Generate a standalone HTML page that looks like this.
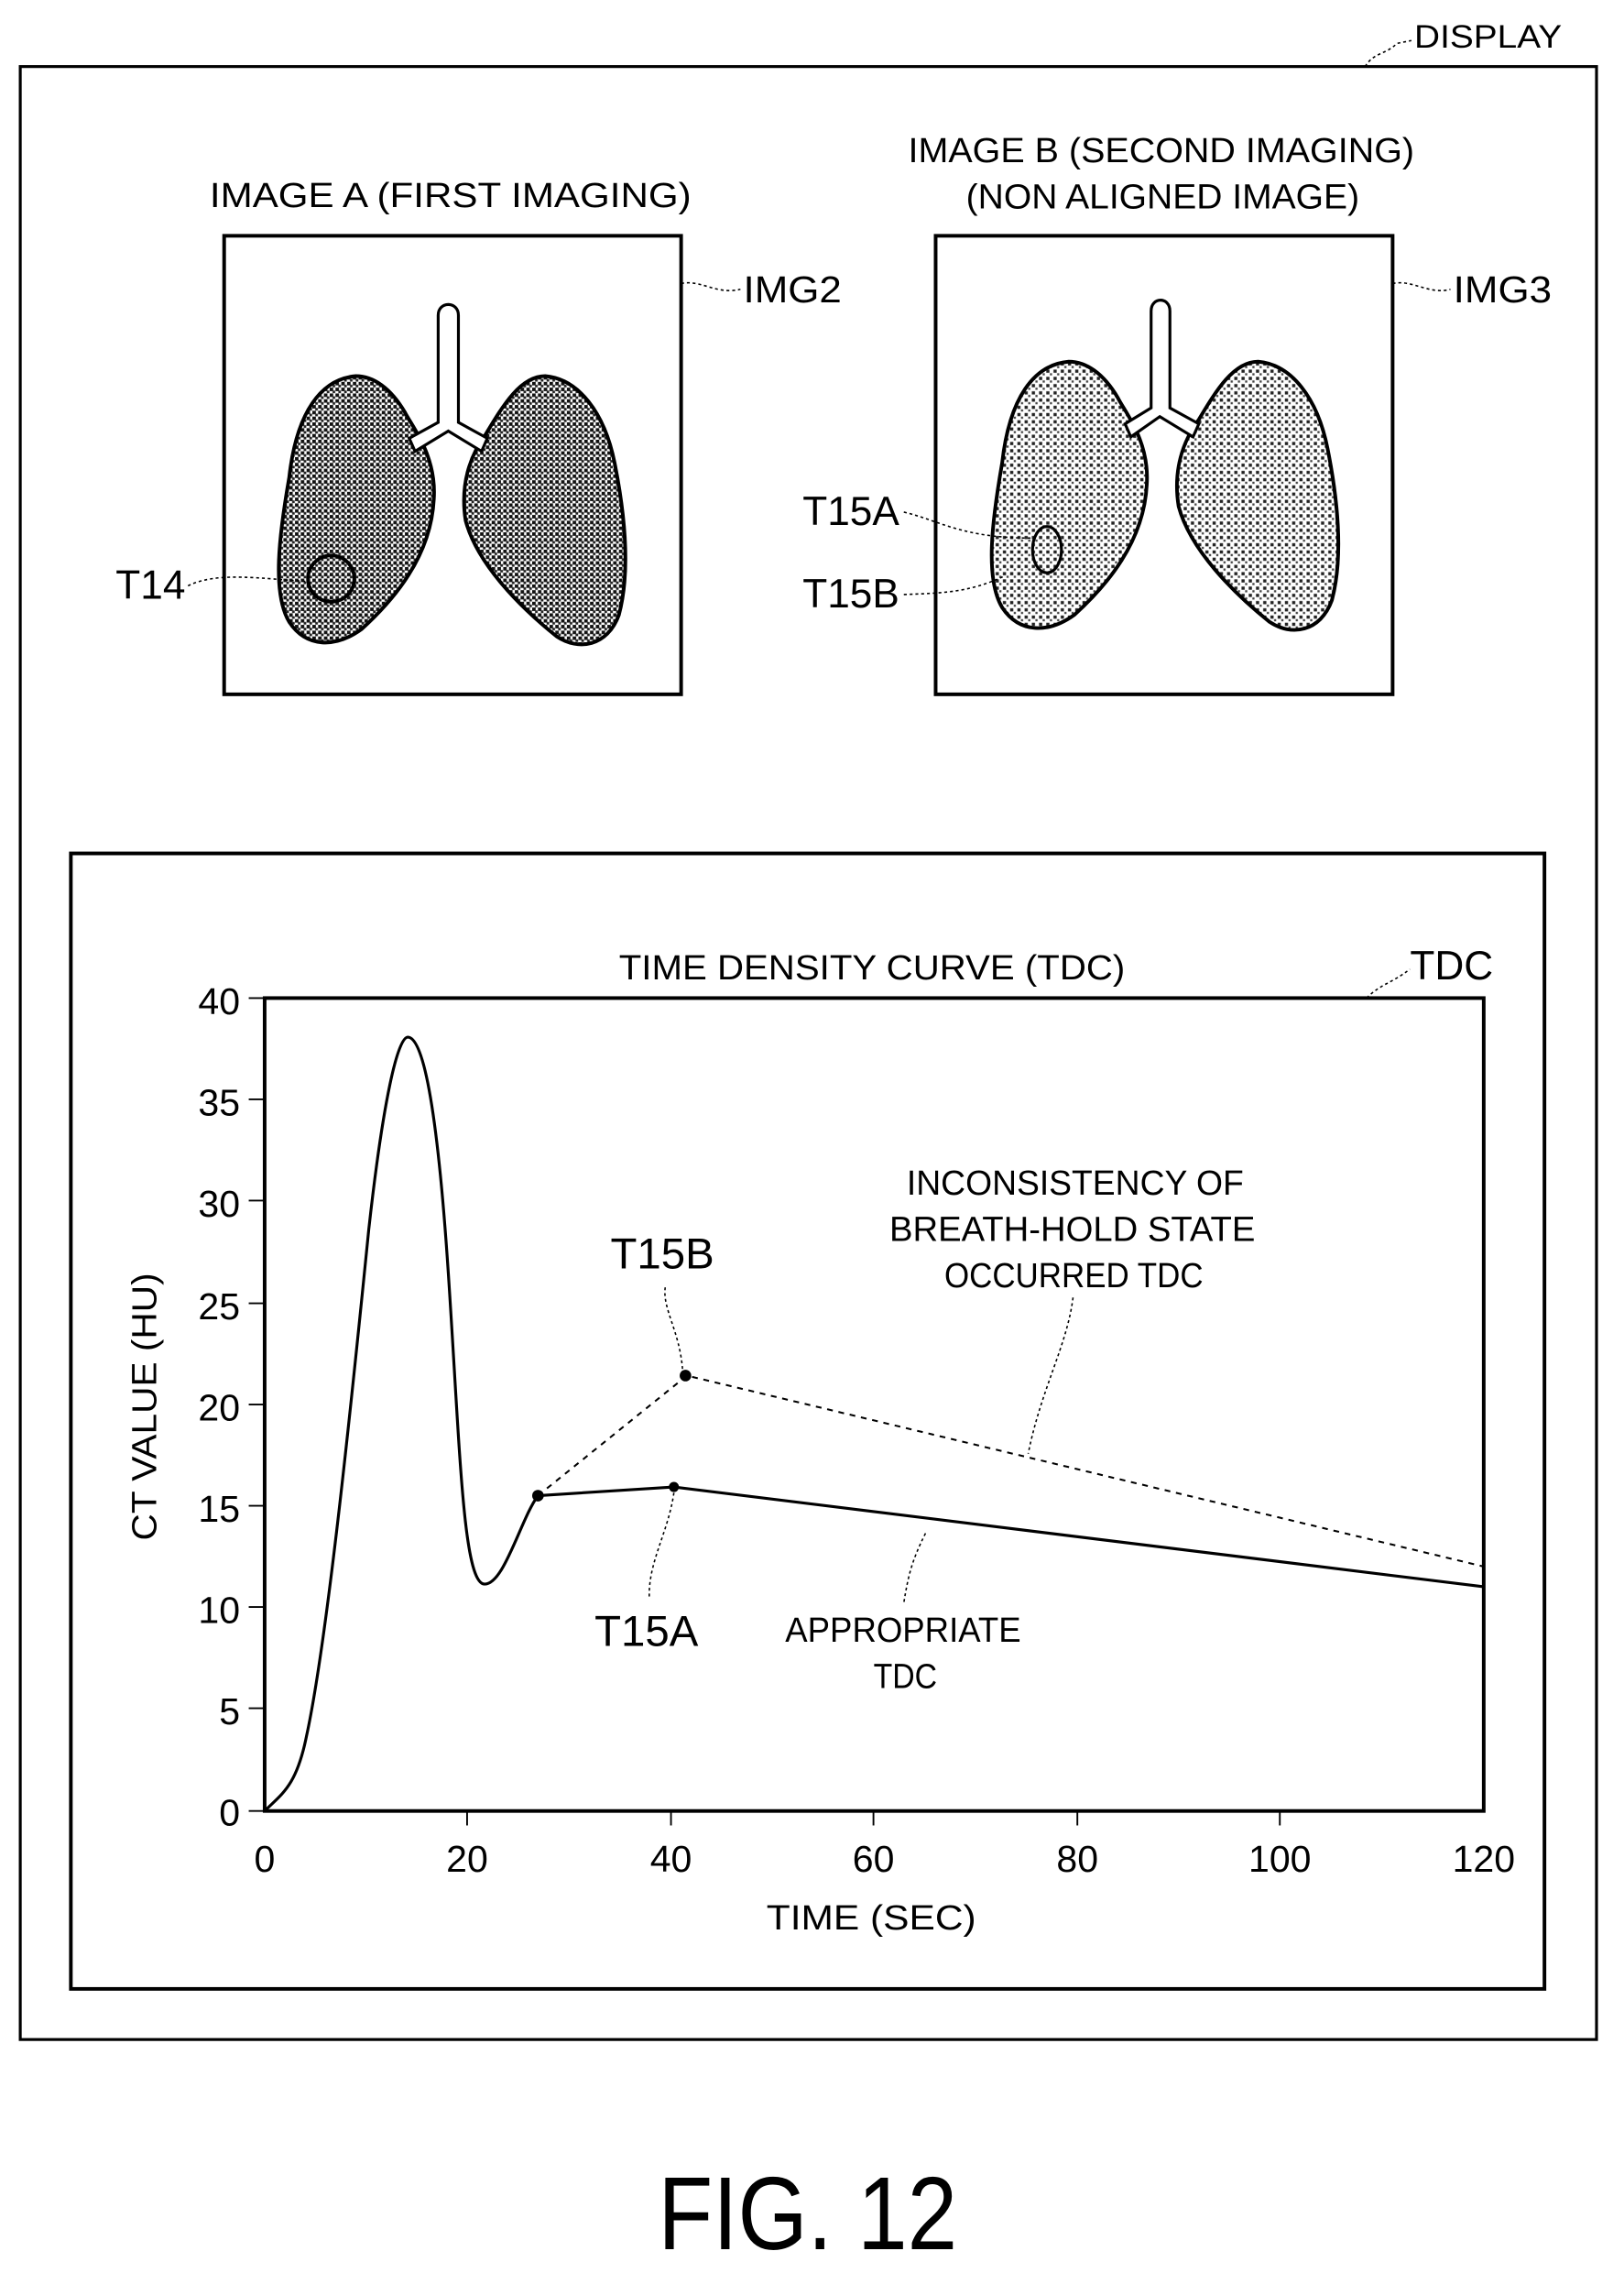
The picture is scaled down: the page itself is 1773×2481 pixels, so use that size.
<!DOCTYPE html>
<html><head><meta charset="utf-8"><style>
html,body{margin:0;padding:0;background:#fff}
svg{display:block}
text{font-family:"Liberation Sans",sans-serif;fill:#000}
</style></head><body>
<svg width="1773" height="2481" viewBox="0 0 1123 1571.4" xmlns="http://www.w3.org/2000/svg">
<defs>
<pattern id="dA" width="4" height="4" patternUnits="userSpaceOnUse"><rect width="4" height="4" fill="#fff"/><rect x="0" y="0" width="2.4" height="2.4" fill="#111"/><rect x="2" y="2" width="1.8" height="1.8" fill="#222"/></pattern>
<pattern id="dB" width="5" height="5" patternUnits="userSpaceOnUse"><rect width="5" height="5" fill="#fff"/><rect x="0.5" y="0.5" width="2.2" height="2.2" fill="#222"/><rect x="3" y="3" width="1.5" height="1.5" fill="#444"/></pattern>
<g id="lungs">
<path d="M246,260 C222,262 205,285 200,330 C193,370 188,410 200,430 C212,448 232,448 250,435 C272,415 298,385 300,345 C302,315 285,295 280,285 C270,268 258,260 246,260 Z"/>
<path d="M377,260 C400,262 418,285 425,320 C432,355 436,395 428,425 C420,447 400,450 385,440 C360,420 330,390 322,360 C318,335 325,315 336,300 C348,280 360,260 377,260 Z"/>
</g>
</defs>
<rect x="14" y="46" width="1090" height="1364" fill="none" stroke="#000" stroke-width="2"/>
<text x="978" y="33" font-size="22" textLength="102" lengthAdjust="spacingAndGlyphs">DISPLAY</text>
<path d="M944,46 C950,36 958,38 966,30 L976,28" fill="none" stroke="#000" stroke-width="1" stroke-dasharray="2,2"/>

<text x="145" y="143" font-size="24" textLength="333" lengthAdjust="spacingAndGlyphs">IMAGE A (FIRST IMAGING)</text>
<rect x="155" y="163" width="316" height="317" fill="none" stroke="#000" stroke-width="2.5"/>
<text x="514" y="209" font-size="26" textLength="68" lengthAdjust="spacingAndGlyphs">IMG2</text>
<path d="M471,196 C485,193 495,204 512,200" fill="none" stroke="#000" stroke-width="1" stroke-dasharray="2,2"/>
<g fill="url(#dA)" stroke="#000" stroke-width="2.5"><use href="#lungs"/></g>
<path d="M303,292 L303,218 C303,208 317,208 317,218 L317,292 L337,303 L333,312 L310,298 L287,312 L283,303 Z" fill="#fff" stroke="#000" stroke-width="2"/>
<circle cx="229" cy="400" r="16" fill="none" stroke="#000" stroke-width="2.5"/>
<text x="80" y="414" font-size="28">T14</text>
<path d="M130,405 C150,395 180,400 213,402" fill="none" stroke="#000" stroke-width="1" stroke-dasharray="2,2"/>

<text x="628" y="112" font-size="24" textLength="350" lengthAdjust="spacingAndGlyphs">IMAGE B (SECOND IMAGING)</text>
<text x="668" y="144" font-size="24" textLength="272" lengthAdjust="spacingAndGlyphs">(NON ALIGNED IMAGE)</text>
<rect x="647" y="163" width="316" height="317" fill="none" stroke="#000" stroke-width="2.5"/>
<text x="1005" y="209" font-size="26" textLength="68" lengthAdjust="spacingAndGlyphs">IMG3</text>
<path d="M963,196 C977,193 988,204 1003,200" fill="none" stroke="#000" stroke-width="1" stroke-dasharray="2,2"/>
<g fill="url(#dB)" stroke="#000" stroke-width="2.5" transform="translate(493,-10)"><use href="#lungs"/></g>
<path d="M796,282 L796,215 C796,205 809,205 809,215 L809,282 L829,293 L825,302 L802,288 L782,302 L778,293 Z" fill="#fff" stroke="#000" stroke-width="2"/>
<ellipse cx="724" cy="380" rx="10" ry="16" fill="none" stroke="#000" stroke-width="2"/>
<text x="555" y="363" font-size="28">T15A</text>
<text x="555" y="420" font-size="28">T15B</text>
<path d="M625,354 C650,360 665,372 714,372" fill="none" stroke="#000" stroke-width="1" stroke-dasharray="2,2"/>
<path d="M625,411 C650,410 670,410 695,398" fill="none" stroke="#000" stroke-width="1" stroke-dasharray="2,2"/>

<rect x="49" y="590" width="1019" height="785" fill="none" stroke="#000" stroke-width="2.5"/>
<text x="428" y="677" font-size="24" textLength="350" lengthAdjust="spacingAndGlyphs">TIME DENSITY CURVE (TDC)</text>
<text x="975" y="677" font-size="28">TDC</text>
<path d="M945,690 C955,680 962,680 975,670" fill="none" stroke="#000" stroke-width="1" stroke-dasharray="2,2"/>

<rect x="183" y="690" width="843" height="562" fill="none" stroke="#000" stroke-width="2.5"/>
<g font-size="26" text-anchor="end">
<text x="166" y="701">40</text><text x="166" y="771">35</text><text x="166" y="841">30</text>
<text x="166" y="912">25</text><text x="166" y="982">20</text><text x="166" y="1052">15</text>
<text x="166" y="1122">10</text><text x="166" y="1192">5</text><text x="166" y="1262">0</text>
</g>
<g stroke="#000" stroke-width="1.2">
<line x1="172" y1="690" x2="183" y2="690"/><line x1="172" y1="760" x2="183" y2="760"/>
<line x1="172" y1="830" x2="183" y2="830"/><line x1="172" y1="901" x2="183" y2="901"/>
<line x1="172" y1="971" x2="183" y2="971"/><line x1="172" y1="1041" x2="183" y2="1041"/>
<line x1="172" y1="1111" x2="183" y2="1111"/><line x1="172" y1="1181" x2="183" y2="1181"/>
<line x1="172" y1="1252" x2="183" y2="1252"/>
<line x1="323" y1="1252" x2="323" y2="1262"/><line x1="464" y1="1252" x2="464" y2="1262"/>
<line x1="604" y1="1252" x2="604" y2="1262"/><line x1="745" y1="1252" x2="745" y2="1262"/>
<line x1="885" y1="1252" x2="885" y2="1262"/>
</g>
<g font-size="26" text-anchor="middle">
<text x="183" y="1294">0</text><text x="323" y="1294">20</text><text x="464" y="1294">40</text>
<text x="604" y="1294">60</text><text x="745" y="1294">80</text><text x="885" y="1294">100</text>
<text x="1026" y="1294">120</text>
</g>
<text x="530" y="1334" font-size="24" textLength="145" lengthAdjust="spacingAndGlyphs">TIME (SEC)</text>
<text transform="translate(108,1065) rotate(-90)" font-size="24" textLength="185" lengthAdjust="spacingAndGlyphs">CT VALUE (HU)</text>

<path d="M183,1252 C195,1240 205,1235 212,1200 C225,1140 240,1000 255,850 C265,760 275,717 282,717 C292,717 302,760 310,880 C318,1000 320,1090 334,1095 C348,1098 360,1050 372,1034 L466,1028 L1026,1097" fill="none" stroke="#000" stroke-width="2"/>
<path d="M372,1034 L475,951 L1026,1083" fill="none" stroke="#000" stroke-width="1.3" stroke-dasharray="4,4"/>
<circle cx="372" cy="1034" r="4"/><circle cx="466" cy="1028" r="3.5"/><circle cx="474" cy="951" r="4"/>

<text x="458" y="877" font-size="30" text-anchor="middle">T15B</text>
<path d="M460,890 C458,905 470,920 472,947" fill="none" stroke="#000" stroke-width="1" stroke-dasharray="2,2"/>
<text x="447" y="1138" font-size="30" text-anchor="middle">T15A</text>
<path d="M466,1032 C462,1060 448,1080 449,1105" fill="none" stroke="#000" stroke-width="1" stroke-dasharray="2,2"/>
<g font-size="24">
<text x="543" y="1135" textLength="163" lengthAdjust="spacingAndGlyphs">APPROPRIATE</text>
<text x="604" y="1167" textLength="44" lengthAdjust="spacingAndGlyphs">TDC</text>
<text x="627" y="826" textLength="233" lengthAdjust="spacingAndGlyphs">INCONSISTENCY OF</text>
<text x="615" y="858" textLength="253" lengthAdjust="spacingAndGlyphs">BREATH-HOLD STATE</text>
<text x="653" y="890" textLength="179" lengthAdjust="spacingAndGlyphs">OCCURRED TDC</text>
</g>
<path d="M640,1060 C630,1080 628,1090 625,1108" fill="none" stroke="#000" stroke-width="1" stroke-dasharray="2,2"/>
<path d="M742,897 C738,930 720,960 711,1005" fill="none" stroke="#000" stroke-width="1" stroke-dasharray="2,2"/>

<text x="455" y="1555" font-size="72" textLength="207" lengthAdjust="spacingAndGlyphs">FIG. 12</text>
</svg>
</body></html>
